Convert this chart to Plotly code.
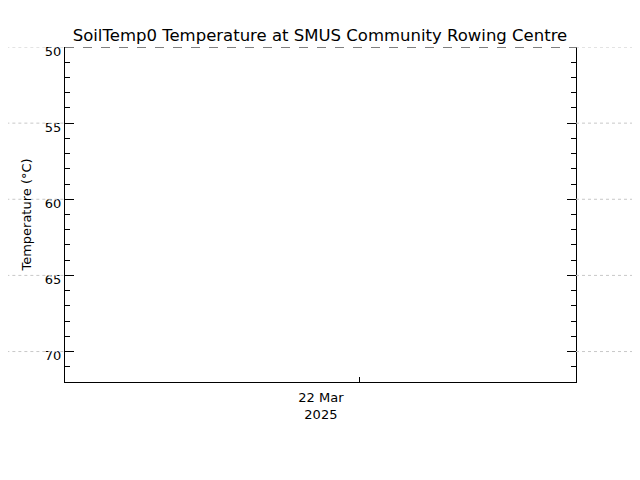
import plotly.graph_objects as go

# no readings in this window, so the series is empty
times = []
soil_temp = []

x_start = "2025-03-21 10:09"
x_end = "2025-03-22 10:09"
x_ticks = ["2025-03-22"]
x_tick_text = ["22 Mar<br>2025"]

y_top = 50
y_bottom = 72
y_ticks = [50, 55, 60, 65, 70]

fig = go.Figure(go.Scatter(x=times, y=soil_temp, mode="lines",
                           line=dict(color="black"), showlegend=False))

# dotted grid only shows outside the frame in the original
shapes = []
for t in y_ticks:
    for x0, x1 in [(-0.15, 0), (1, 1.15)]:
        shapes.append(dict(type="line", xref="paper", yref="y", x0=x0, x1=x1, y0=t, y1=t,
                           line=dict(color="#c8c8c8", width=1, dash="dot")))
# dashed top border
shapes.append(dict(type="line", xref="paper", yref="y", x0=0, x1=1, y0=y_top, y1=y_top,
                   line=dict(color="black", width=1, dash="dash")))

# page body adds an 8px offset, so margins are pulled in by 8
fig.update_layout(
    width=640, height=480,
    margin=dict(l=57, r=72, t=39, b=106, autoexpand=False),
    paper_bgcolor="white", plot_bgcolor="white",
    font=dict(family="DejaVu Sans", size=12, color="black"),
    title=dict(text="SoilTemp0 Temperature at SMUS Community Rowing Centre",
               x=(320 - 8) / 640, xanchor="center", y=1 - (35 - 8) / 480, yanchor="middle",
               font=dict(size=16.5)),
    shapes=shapes,
    xaxis=dict(type="date", range=[x_start, x_end], tickvals=x_ticks, ticktext=x_tick_text,
               showgrid=False, zeroline=False, showline=True, linecolor="black", linewidth=1,
               ticks="inside", ticklen=5, tickcolor="black", tickfont=dict(size=13),
               ticklabelshift=-39, ticklabelstandoff=3),
    yaxis=dict(range=[y_bottom, y_top], tickvals=y_ticks, showgrid=False, zeroline=False,
               showline=True, linecolor="black", linewidth=1, mirror="ticks",
               ticks="inside", ticklen=9, tickcolor="black", tickfont=dict(size=13),
               ticklabelshift=-4,
               minor=dict(dtick=1, ticks="inside", ticklen=5, tickcolor="black"),
               title=dict(text="Temperature (°C)", standoff=10, font=dict(size=13))),
)

fig.write_html("out.html")
